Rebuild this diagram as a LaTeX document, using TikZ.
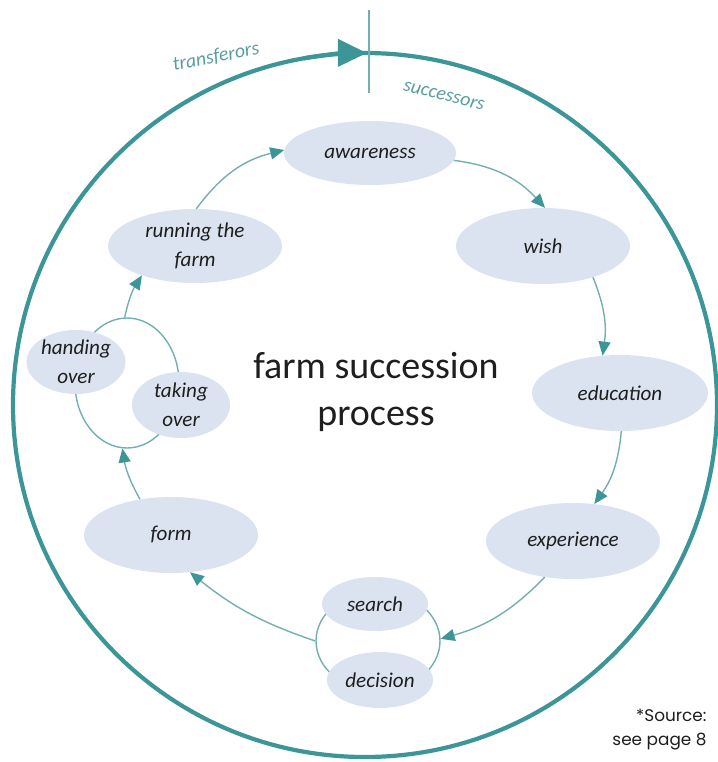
\documentclass[tikz,border=0pt]{standalone}
\usepackage{fontspec}
\setmainfont{Carlito}
\newfontfamily\notefont{Poppins}
\usetikzlibrary{shapes.geometric,arrows.meta,positioning}

\definecolor{ringteal}{HTML}{3C9597}
\definecolor{lineteal}{HTML}{74AFB0}
\definecolor{labelteal}{HTML}{5A9DA0}
\definecolor{stagefill}{HTML}{DAE3EF}
\definecolor{stagetext}{HTML}{1E1E1E}

\tikzset{
  stage/.style={ellipse, fill=stagefill, inner sep=0pt, align=center, text=stagetext,
    font=\fontsize{30}{41}\selectfont\itshape},
  loopline/.style={ellipse, draw=lineteal, line width=2pt, inner sep=0pt},
  flow/.style={draw=lineteal, line width=2pt,
    -{Triangle[length=0.7cm, width=0.6cm, color=ringteal]}},
  sidelabel/.style={text=labelteal, font=\fontsize{28}{34}\selectfont\itshape}
}

\begin{document}
\begin{tikzpicture}[x=0.05cm, y=-0.05cm]
    \useasboundingbox (0,0) rectangle (717,762);

    % Outer ring with arrow and divider
    \coordinate (centre) at (365,405);
    \draw[ringteal, line width=0.21cm] (centre) circle[radius=352];
    \draw[ringteal, line width=0.21cm, -{Triangle[length=1.45cm, width=1.35cm]}]
        (centre) ++(-100:352) arc[start angle=-100, end angle=-89.7, radius=352];
    \coordinate (divtop) at (369,10);
    \coordinate (divbot) at (369,93);
    \draw[lineteal, line width=0.12cm] (divtop) -- (divbot);
    \node[sidelabel, rotate=11] (transferors) at (216,57) {transferors};
    \node[sidelabel, rotate=-14] (successors) at (444,96) {successors};

    % Loops behind the paired stages
    \node[loopline, minimum width=5.2cm, minimum height=6.5cm] (handloop) at (127,383) {};
    \node[loopline, minimum width=6.2cm, minimum height=5cm] (searchloop) at (378,641) {};

    % Stages
    \node[stage, minimum width=8.6cm, minimum height=3.2cm] (awareness) at (370,153) {awareness};
    \node[stage, minimum width=8.7cm, minimum height=3.8cm] (wish) at (543,246) {wish};
    \node[stage, minimum width=8.8cm, minimum height=3.8cm] (education) at (620,393) {education};
    \node[stage, minimum width=8.7cm, minimum height=3.8cm] (experience) at (573,541) {experience};
    \node[stage, minimum width=5.3cm, minimum height=2.7cm] (search) at (375,604) {search};
    \node[stage, minimum width=5.3cm, minimum height=2.8cm] (decision) at (380,680) {decision};
    \node[stage, minimum width=8.7cm, minimum height=3.8cm] (form) at (171,535) {form};
    \node[stage, minimum width=4.6cm, minimum height=3.2cm] (handing) at (76,362) {handing\\over};
    \node[stage, minimum width=4.9cm, minimum height=3.3cm] (taking) at (181,405) {taking\\over};
    \node[stage, minimum width=8.7cm, minimum height=3.7cm] (running) at (195,246) {running the\\farm};

    % Title
    \node[align=center, text=stagetext, font=\fontsize{54}{68}\selectfont] (title) at (376,392)
        {farm succession\\process};

    % Flow between stages
    \draw[flow] (awareness.-5) to[bend left=20] (wish.87);
    \draw[flow] (wish.-32) to[bend left=15] (education.115);
    \draw[flow] (education.-88) to[bend left=15] (experience.60);
    \draw[flow] (experience.-128) to[bend left=15] (searchloop.2);
    \draw[flow] (searchloop.180) to[bend left=10] (form.-63);
    \draw[flow] (form.131) to[bend left=10] (handloop.-94);
    \draw[flow] (handloop.92) to[bend left=10] (running.-151);
    \draw[flow] (running.88) to[bend left=20] (awareness.178);

    % Source note
    \node[anchor=east, align=right, text=stagetext, font=\notefont\fontsize{24}{34}\selectfont]
        (source) at (709,730) {*Source:\\see page 8};
\end{tikzpicture}
\end{document}
